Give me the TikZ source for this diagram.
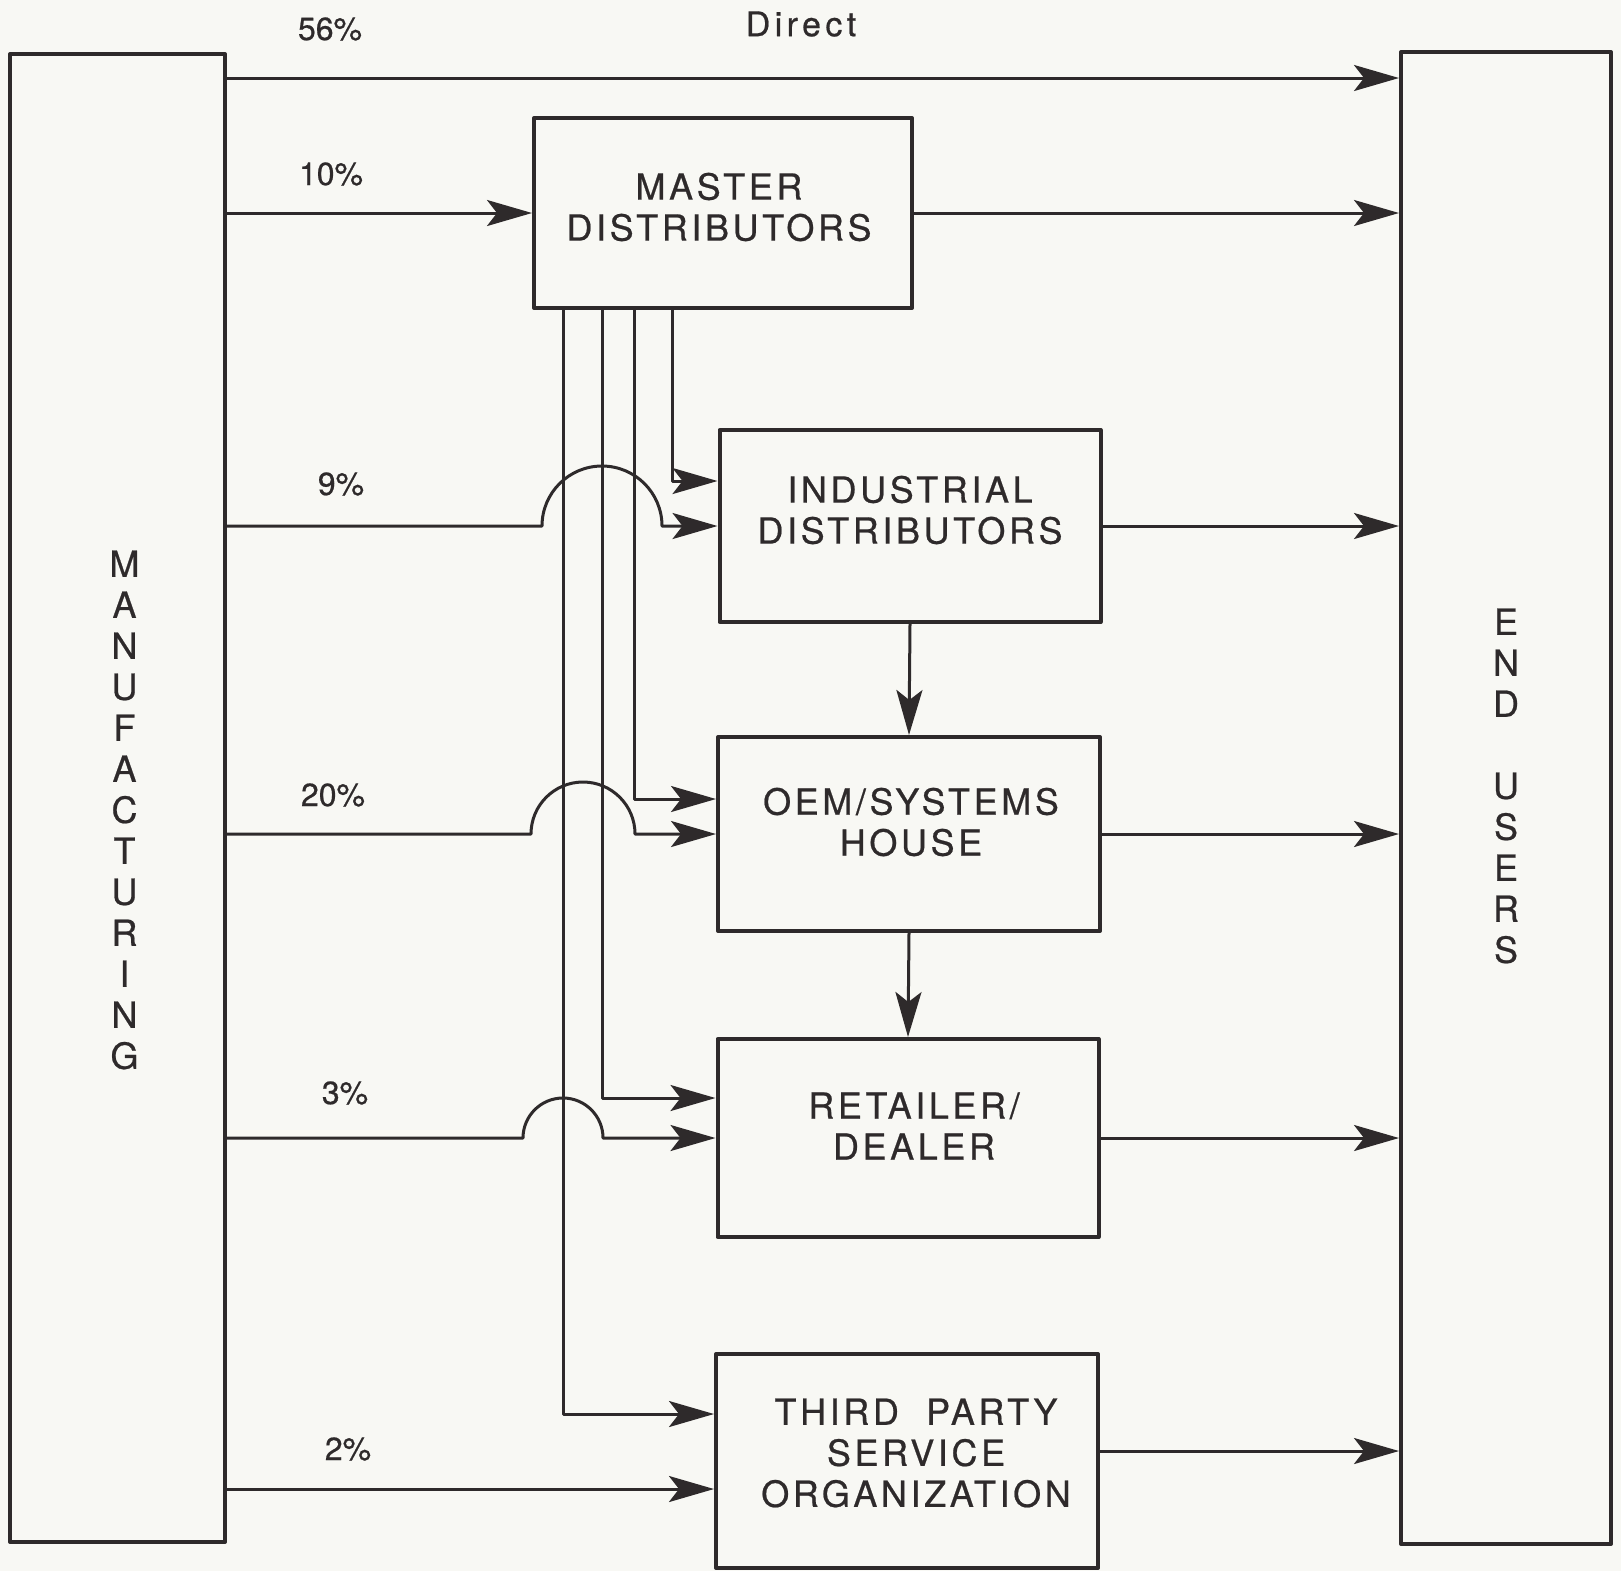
\documentclass[tikz,border=0pt]{standalone}
\usepackage{fontspec}
\setmainfont{TeX Gyre Heros}[FakeBold=0.6]
\newfontfamily\spacedfont[LetterSpace=10,FakeBold=0.6]{TeX Gyre Heros}
\newfontfamily\widefont[LetterSpace=13,FakeBold=0.6]{TeX Gyre Heros}
\usetikzlibrary{arrows.meta,calc}
\definecolor{ink}{HTML}{2E2A2B}
\definecolor{paper}{HTML}{F8F8F4}

\begin{document}
\begin{tikzpicture}[x=0.5pt, y=-0.5pt, line width=1.5pt, line join=round, color=ink,
  >={Stealth[length=22.5pt,width=13pt,inset=5pt]},
  box/.style={draw, line width=2pt, rectangle, inner sep=0pt},
  txt/.style={align=center, inner sep=0pt, font=\spacedfont\fontsize{18pt}{20.5pt}\selectfont},
  pct/.style={font=\fontsize{16pt}{18pt}\selectfont}]
  % page
  \fill[paper] (0,0) rectangle (1621,1571);
  \useasboundingbox (0,0) rectangle (1621,1571);
  % the two long side boxes
  \node[box, minimum width=107.5pt, minimum height=744pt] (manu) at (117.5,798) {};
  \node[box, minimum width=105pt, minimum height=746pt] (users) at (1506,798) {};
  \node[txt] (manutxt) at ([xshift=3.5pt,yshift=-6pt]manu.center)
    {M\\A\\N\\U\\F\\A\\C\\T\\U\\R\\I\\N\\G};
  \node[txt] (userstxt) at ([yshift=6pt]users.center)
    {E\\N\\D\\[20.5pt]U\\S\\E\\R\\S};
  % channel boxes
  \node[box, minimum width=189pt, minimum height=95pt] (master) at (723,213) {};
  \node[box, minimum width=190.5pt, minimum height=96pt] (indus) at (910,526) {};
  \node[box, minimum width=191pt, minimum height=97pt] (oem) at (909,834) {};
  \node[box, minimum width=190.5pt, minimum height=99pt] (retail) at (908,1138) {};
  \node[box, minimum width=191pt, minimum height=107pt] (third) at (907,1461) {};
  \node[txt] (mastertxt) at ([xshift=-2pt,yshift=3pt]master.center) {MASTER\\DISTRIBUTORS};
  \node[txt] (industxt) at ([yshift=8pt]indus.center) {INDUSTRIAL\\DISTRIBUTORS};
  \node[txt] (oemtxt) at ([xshift=1pt,yshift=6pt]oem.center) {OEM/SYSTEMS\\HOUSE};
  \node[txt] (retailtxt) at ([xshift=3pt,yshift=6pt]retail.center) {RETAILER/\\DEALER};
  \node[txt] (thirdtxt) at ([xshift=4.5pt,yshift=4pt]third.center) {THIRD\ \ PARTY\\SERVICE\\ORGANIZATION};
  % line ends
  \coordinate (direct) at (0,78);
  \coordinate (tin) at ([yshift=-14pt]third.west);
  \coordinate (tout) at ([yshift=5pt]third.east);
  \coordinate (b1) at ([xshift=15.5pt]master.south west);
  \coordinate (b2) at ([xshift=35pt]master.south west);
  \coordinate (b3) at ([xshift=51pt]master.south west);
  \coordinate (b4) at ([xshift=70pt]master.south west);
  % percentages
  \node[pct] (p56) at (330,29) {56\%};
  \node[pct, font=\widefont\fontsize{17pt}{19pt}\selectfont] (pdir) at (801,24) {Direct};
  \node[pct] (p10) at (331,174) {10\%};
  \node[pct] (p9) at (341,484) {9\%};
  \node[pct] (p20) at (333,795) {20\%};
  \node[pct] (p3) at (345,1093) {3\%};
  \node[pct] (p2) at (348,1449) {2\%};
  % from master distributors down to the others
  \draw[->] (b4) |- ([yshift=22.5pt]indus.west);
  \draw[->] (b3) |- ([yshift=17.5pt]oem.west);
  \draw[->] (b2) |- ([yshift=20pt]retail.west);
  \draw[->] (b1) |- ([yshift=23.5pt]third.west);
  % from manufacturing, hopping over the drops
  \draw[->] (manu.east |- direct) -- (users.west |- direct);
  \draw[->] (manu.east |- master.west) -- (master.west);
  \draw[->] (manu.east |- indus.west) -- ($(b2 |- indus.west)-(30pt,0)$)
    arc[start angle=180, end angle=0, radius=30pt] -- (indus.west);
  \draw[->] (manu.east |- oem.west) -- ($(b1 |- oem.west)-(16pt,0)$)
    arc[start angle=180, end angle=0, radius=26pt] -- (oem.west);
  \draw[->] (manu.east |- retail.west) -- ($(b1 |- retail.west)-(20pt,0)$)
    arc[start angle=180, end angle=0, radius=20pt] -- (retail.west);
  \draw[->] (manu.east |- tin) -- (tin);
  % to end users
  \draw[->] (master.east) -- (users.west |- master.east);
  \draw[->] (indus.east) -- (users.west |- indus.east);
  \draw[->] (oem.east) -- (users.west |- oem.east);
  \draw[->] (retail.east) -- (users.west |- retail.east);
  \draw[->] (tout) -- (users.west |- tout);
  \draw[->] (indus.south) -- (oem.north);
  \draw[->] (oem.south) -- (retail.north);
\end{tikzpicture}
\end{document}
